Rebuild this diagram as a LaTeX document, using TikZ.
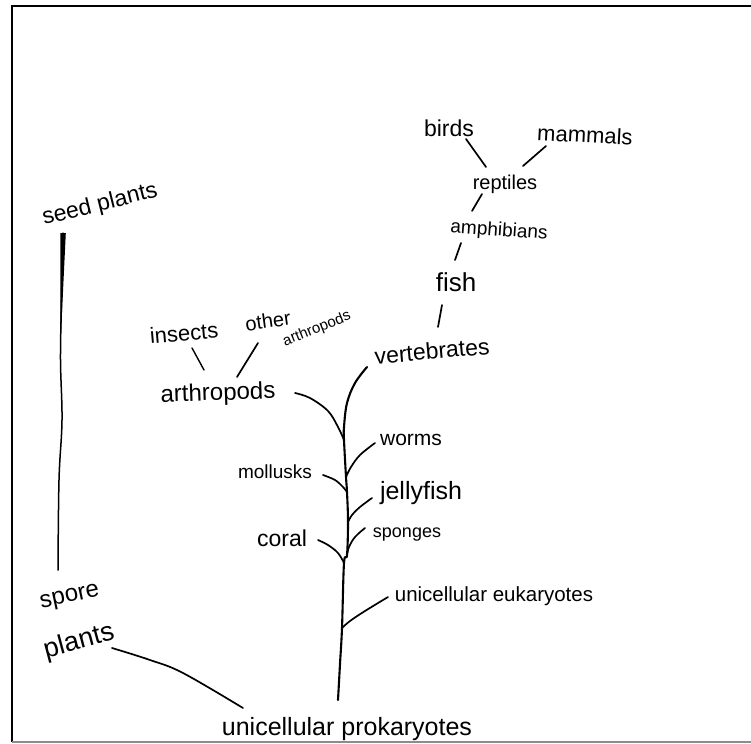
\documentclass[tikz,border=0pt]{standalone}
\usepackage{fontspec}
\setmainfont{Liberation Sans}
\newcommand\fsz[1]{\fontsize{#1}{#1}\selectfont}
\begin{document}
\begin{tikzpicture}[x=1pt,y=-1pt,
  lbl/.style={inner sep=0pt, anchor=center},
  branch/.style={line width=1.7pt, line cap=round, line join=round},
  stem/.style={branch, line width=2.1pt}]
\useasboundingbox (0,0) rectangle (751,743);

% sheet frame
\draw[line width=2pt] (12,742) -- (12,6) -- (751,6);
\draw[black!45, line width=1.6pt] (12,742) -- (751,742);

% labels
\node[lbl,font=\fsz{23}] (birds) at (449,128) {birds};
\node[lbl,font=\fsz{22},rotate=-3] (mammals) at (585,135) {mammals};
\node[lbl,font=\fsz{20}] (reptiles) at (505,184) {reptiles};
\node[lbl,font=\fsz{19},rotate=-4] (amphibians) at (499,231) {amphibians};
\node[lbl,font=\fsz{26}] (fish) at (456,282) {fish};
\node[lbl,font=\fsz{23},rotate=5] (vertebrates) at (432,351) {vertebrates};
\node[lbl,font=\fsz{22},rotate=5] (insects) at (184,333) {insects};
\node[lbl,font=\fsz{20},rotate=8] (other) at (268,321) {other};
\node[lbl,font=\fsz{15},rotate=22] (otherarth) at (317,329) {arthropods};
\node[lbl,font=\fsz{24},rotate=2] (arthropods) at (218,394) {arthropods};
\node[lbl,font=\fsz{21}] (worms) at (411,440) {worms};
\node[lbl,font=\fsz{19}] (mollusks) at (275,472) {mollusks};
\node[lbl,font=\fsz{25}] (jellyfish) at (421,493) {jellyfish};
\node[lbl,font=\fsz{18}] (sponges) at (407,535) {sponges};
\node[lbl,font=\fsz{23}] (coral) at (282,538) {coral};
\node[lbl,font=\fsz{20.5}] (eukaryotes) at (494,596) {unicellular eukaryotes};
\node[lbl,font=\fsz{24},rotate=12] (spore) at (70,598) {spore};
\node[lbl,font=\fsz{27},rotate=15] (plants) at (79,642) {plants};
\node[lbl,font=\fsz{23},rotate=14] (seedplants) at (100,205) {seed plants};
\node[lbl,font=\fsz{25}] (prokaryotes) at (347,729) {unicellular prokaryotes};

% points where the branches meet
\coordinate (vert-tip) at (367,367);
\coordinate (arth-join) at (344,440);
\coordinate (worm-join) at (346,477);
\coordinate (moll-join) at (347,492);
\coordinate (jelly-join) at (348,522);
\coordinate (spon-join) at (347,555);
\coordinate (coral-join) at (344,563);
\coordinate (euk-join) at (342,628);
\coordinate (root) at (338,700);

% main trunk
\draw[stem] plot[smooth, tension=0.6] coordinates {(vert-tip) (355,383) (347,403) (344,427) (arth-join) (worm-join) (moll-join) (jelly-join) (spon-join) (coral-join) (euk-join) (340,664) (root)};

% side branches
\coordinate (arth-tip) at (295,393);
\coordinate (worm-tip) at (375,443);
\coordinate (moll-tip) at (323,475);
\coordinate (jelly-tip) at (372,498);
\coordinate (spon-tip) at (365,528);
\coordinate (coral-tip) at (318,540);
\coordinate (euk-tip) at (388,597);
\draw[branch] plot[smooth, tension=0.6] coordinates {(arth-tip) (310,398) (328,411) (338,427) (arth-join)};
\draw[branch] plot[smooth, tension=0.6] coordinates {(worm-tip) (360,455) (351,467) (worm-join)};
\draw[branch] plot[smooth, tension=0.6] coordinates {(moll-tip) (335,480) (343,487) (moll-join)};
\draw[branch] plot[smooth, tension=0.6] coordinates {(jelly-tip) (360,507) (352,515) (jelly-join)};
\draw[branch] plot[smooth, tension=0.6] coordinates {(spon-tip) (355,537) (349,547) (spon-join)};
\draw[branch] plot[smooth, tension=0.6] coordinates {(coral-tip) (328,545) (338,553) (coral-join)};
\draw[branch] plot[smooth, tension=0.6] coordinates {(euk-tip) (365,611) (350,621) (euk-join)};

% vertebrate line
\coordinate (b-end) at (466,139);
\coordinate (b-rep) at (486,167);
\coordinate (m-end) at (546,146);
\coordinate (m-rep) at (523,166);
\coordinate (r-end) at (482,194);
\coordinate (r-amp) at (472,211);
\coordinate (a-end) at (461,243);
\coordinate (a-fish) at (455,260);
\coordinate (f-end) at (442,305);
\coordinate (f-vert) at (438,327);
\draw[branch] (b-end) -- (b-rep);
\draw[branch] (m-end) -- (m-rep);
\draw[branch] (r-end) -- (r-amp);
\draw[branch] (a-end) -- (a-fish);
\draw[branch] (f-end) -- (f-vert);

% arthropod split
\coordinate (i-end) at (192,348);
\coordinate (i-arth) at (204,370);
\coordinate (o-end) at (258,343);
\coordinate (o-arth) at (237,377);
\draw[branch, line width=1.4pt] (i-end) -- (i-arth);
\draw[branch] (o-end) -- (o-arth);

% plants
\coordinate (seed-top) at (63,233);
\coordinate (seed-bot) at (58,570);
\fill (60.3,233) -- (65.8,233) -- (62.6,300) -- (61.2,330) -- (60.3,330) -- cycle;
\draw[branch, line width=1.5pt] plot[smooth, tension=0.6] coordinates {(seed-top) (61.5,300) (60.5,360) (62,420) (59,480) (seed-bot)};
\coordinate (spore-end) at (112,648);
\coordinate (prok-end) at (243,708);
\draw[branch] plot[smooth, tension=0.6] coordinates {(spore-end) (150,660) (183,673) (prok-end)};
\end{tikzpicture}
\end{document}
